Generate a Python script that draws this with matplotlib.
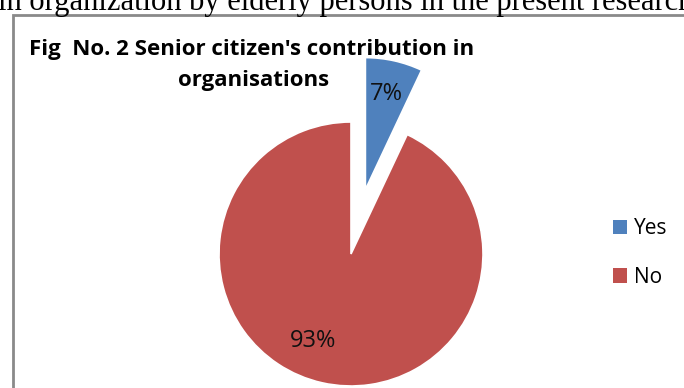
import matplotlib.pyplot as plt
from matplotlib.patches import Rectangle, Patch

# Senior citizen's contribution in organisations
labels = ["Yes", "No"]
shares = [7, 93]
colors = ["#4F81BD", "#C0504D"]
explode = [0.5, 0]

W, H = 684, 388


def fx(px):
    return px / W


def fy(py):
    return 1 - py / H


fig = plt.figure(figsize=(W / 100, H / 100), dpi=100)

# running text of the page, clipped at the top edge
fig.text(fx(-2), fy(10), "in organization by elderly persons in the present research",
         family="Liberation Serif", fontsize=22, va="baseline", ha="left")

# chart frame
fig.patches.append(Rectangle((fx(13), fy(420)), fx(700), fy(15) - fy(420),
                             transform=fig.transFigure, fill=False,
                             edgecolor="#8a8a8a", linewidth=2))

title_font = {"family": "Open Sans", "fontweight": "bold", "fontsize": 16}
fig.text(fx(252), fy(55), "Fig  No. 2 Senior citizen's contribution in",
         ha="center", va="baseline", **title_font)
fig.text(fx(254), fy(86), "organisations", ha="center", va="baseline", **title_font)

ax = fig.add_axes([fx(219), fy(386), fx(264), fy(122) - fy(386)])
wedges, texts, autotexts = ax.pie(
    shares, colors=colors, explode=explode, startangle=90, counterclock=False,
    autopct="%d%%", pctdistance=0.74, radius=1,
    wedgeprops={"edgecolor": "white", "linewidth": 1.2, "clip_on": False},
    textprops={"family": "Open Sans", "fontsize": 17, "color": "#111111"},
)
ax.set_xlim(-1, 1)
ax.set_ylim(-1, 1)
for t in autotexts:
    t.set_clip_on(False)
# best-fit placement of the large slice's label
autotexts[1].set_position((-0.29, -0.66))

handles = [Patch(facecolor=c, edgecolor="none") for c in colors]
fig.legend(handles, labels, loc="center left", bbox_to_anchor=(fx(594), fy(253)),
           frameon=False, handlelength=0.67, handleheight=0.67, handletextpad=0.34,
           labelspacing=1.33, prop={"family": "Open Sans", "size": 15})

fig.savefig("out.png", dpi=100)
